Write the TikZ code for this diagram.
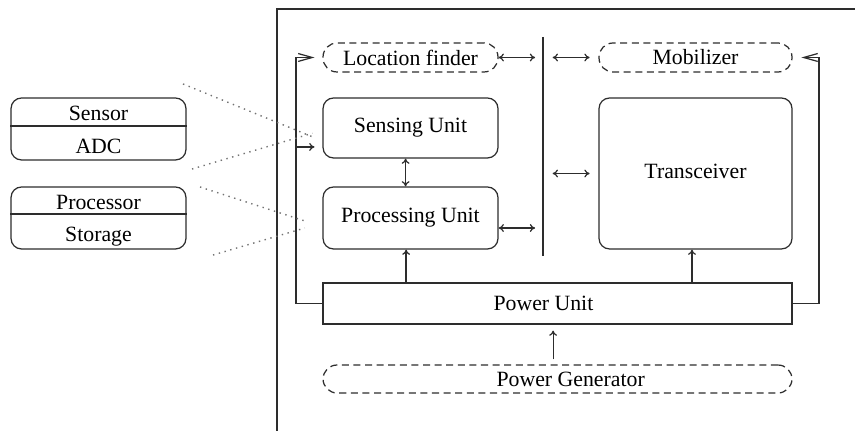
\documentclass[tikz,border=0pt]{standalone}
\usepackage{fontspec}
\setmainfont{Liberation Serif}
\usetikzlibrary{arrows.meta}
\definecolor{ink}{RGB}{45,45,45}

\begin{document}
\begin{tikzpicture}[x=0.02cm, y=-0.02cm, every node/.style={font=\fontsize{12.4}{14}\selectfont},
  unitbox/.style={draw=ink, line width=0.7pt, rounded corners=6pt, align=center, inner sep=0pt},
  optbox/.style={unitbox, dash pattern=on 4pt off 2.6pt, rounded corners=8pt},
  arr/.style={-{To[length=3pt,width=4.5pt]}, draw=ink, line width=0.7pt},
  dbl/.style={{To[length=3pt,width=4.5pt]}-{To[length=3pt,width=4.5pt]}, draw=ink, line width=0.7pt},
  fbarr/.style={-{Straight Barb[length=8pt,width=4.5pt]}, draw=ink, line width=0.7pt},
  zoomline/.style={draw=black!55, line width=0.8pt, dash pattern=on 0.8pt off 2.6pt}]
\useasboundingbox (0,0) rectangle (855,431);

% node frame
\draw[ink, line width=0.7pt] (277,431) -- (277,9) -- (855,9);

% parts inside the node
\node[optbox, minimum width=3.5cm, minimum height=0.58cm] (loc) at (410.5,57.5) {Location finder};
\node[unitbox, minimum width=3.5cm, minimum height=1.2cm] (sensing) at (410.5,128) {Sensing Unit};
\node[unitbox, minimum width=3.5cm, minimum height=1.24cm] (proc) at (410.5,218) {Processing Unit};
\node[optbox, minimum width=3.86cm, minimum height=0.58cm] (mob) at (695.5,57.5) {Mobilizer};
\node[unitbox, minimum width=3.86cm, minimum height=3.02cm] (trans) at (695.5,173.5) {\raisebox{3pt}{Transceiver}};
\node[unitbox, rounded corners=0pt, minimum width=9.38cm, minimum height=0.82cm] (power) at (557.5,303.5) {\hspace*{-16pt}Power Unit};
\node[optbox, minimum width=9.38cm, minimum height=0.56cm] (gen) at (557.5,379) {\hspace*{15pt}Power Generator};

% internal bus
\coordinate (bt) at (543,37);
\coordinate (bb) at (543,256);
\draw[ink, line width=0.7pt] (bt) -- (bb);

% links
\draw[dbl, shorten >=4.5pt] (loc.east) -- (loc.east -| bt);
\draw[dbl, shorten <=5.5pt, shorten >=5pt] (loc.east -| bt) -- (mob.west);
\draw[dbl, shorten <=5.5pt, shorten >=5pt] (trans.west -| bt) -- (trans.west);
\draw[dbl, shorten >=4.5pt] ([yshift=-5.7pt]proc.east) -- ([yshift=-5.7pt]proc.east -| bt);
\draw[dbl] ([xshift=-2.8pt]sensing.south) -- ([xshift=-2.8pt]proc.north);
\draw[arr] ([xshift=-2.5pt]power.north -| proc) -- ([xshift=-2.5pt]proc.south);
\draw[arr] ([xshift=-2pt]power.north -| trans) -- ([xshift=-2pt]trans.south);
\draw[arr, shorten <=2.8pt, shorten >=3.4pt] ([xshift=-2.5pt]gen.north) -- ([xshift=-2.5pt]power.south);

% power feedback to the optional parts
\coordinate (lft) at (296,303.5);
\coordinate (rgt) at (819,303.5);
\coordinate (sin) at ([yshift=-10.8pt]sensing.west);
\draw[fbarr, shorten >=4.5pt] (power.west) -- (lft) |- (loc.west);
\draw[fbarr, shorten >=5pt] (power.east) -- (rgt) |- (mob.east);
\draw[arr, shorten >=4.5pt] (lft |- sin) -- (sin);

% sub-blocks on the left
\node[unitbox, minimum width=3.5cm, minimum height=1.24cm] (sadc) at (98.5,129) {};
\draw[ink, line width=0.7pt] (sadc.west |- 0,126) -- (sadc.east |- 0,126);
\node (sensor) at (98.5,113) {Sensor};
\node (adc) at (98.5,146) {ADC};
\node[unitbox, minimum width=3.5cm, minimum height=1.24cm] (pst) at (98.5,218) {};
\draw[ink, line width=0.7pt] (pst.west |- 0,214) -- (pst.east |- 0,214);
\node (cpu) at (98.5,202) {Processor};
\node (mem) at (98.5,237) {Storage};

% zoom lines
\coordinate (z1) at (183,84);
\coordinate (z2) at (192,169);
\coordinate (z3) at (200,187);
\coordinate (z4) at (213,255);
\draw[zoomline] (z1) -- ([shift={(-5.7pt,-5pt)}]sensing.west);
\draw[zoomline] (z2) -- ([shift={(-5.7pt,-3pt)}]sensing.west);
\draw[zoomline] (z3) -- ([shift={(-10pt,-1.7pt)}]proc.west);
\draw[zoomline] (z4) -- ([shift={(-10pt,-5.7pt)}]proc.west);
\end{tikzpicture}
\end{document}
